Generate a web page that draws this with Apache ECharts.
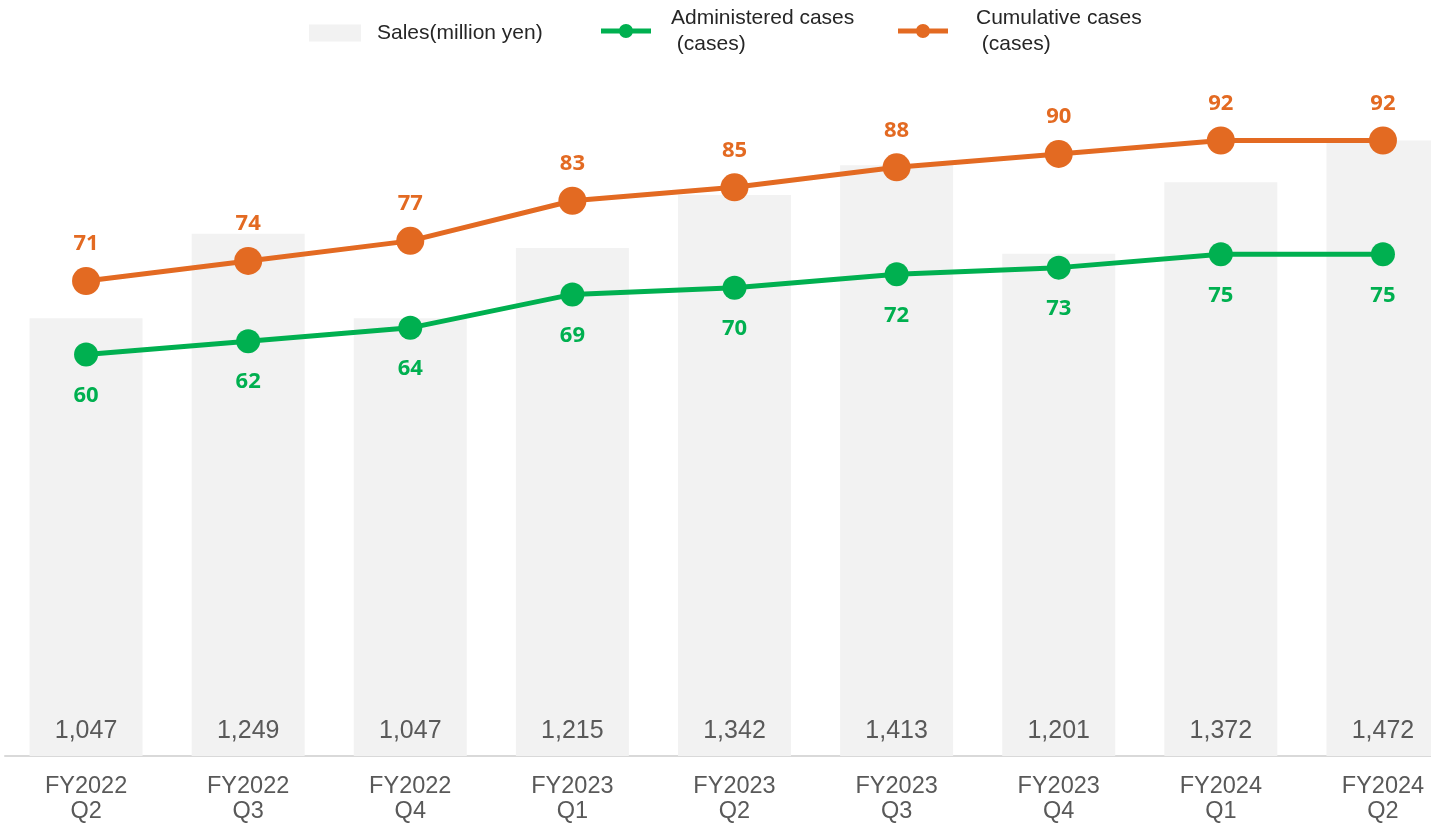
<!DOCTYPE html>
<html><head><meta charset="utf-8">
<script src="https://cdn.jsdelivr.net/npm/echarts@6/dist/echarts.min.js"></script>
<style>html,body{margin:0;padding:0;background:#fff}#c{width:1431px;height:823px}</style>
</head><body><div id="c"></div>
<script>
const categories = ['FY2022\nQ2','FY2022\nQ3','FY2022\nQ4','FY2023\nQ1','FY2023\nQ2','FY2023\nQ3','FY2023\nQ4','FY2024\nQ1','FY2024\nQ2'];
const sales = [1047,1249,1047,1215,1342,1413,1201,1372,1472];
const administered = [60,62,64,69,70,72,73,75,75];
const cumulative = [71,74,77,83,85,88,90,92,92];

const chart = echarts.init(document.getElementById('c'));
const orange = '#E36A22', green = '#00B050';
const lineIcon = 'path://M0,4.5 L50,4.5 L50,9.5 L0,9.5 Z M25,0 C28.866,0 32,3.134 32,7 C32,10.866 28.866,14 25,14 C21.134,14 18,10.866 18,7 C18,3.134 21.134,0 25,0 Z';
const legendText = {fontFamily: 'Liberation Sans', fontSize: 21, color: '#262626', lineHeight: 26};
chart.setOption({
  animation: false,
  grid: {left: 5, width: 1459, top: 87, bottom: 67, containLabel: false, outerBoundsMode: 'none'},
  legend: [
    {left: 304, top: 15, itemWidth: 52, itemHeight: 17, icon: 'rect', data: ['Sales(million yen)'],
     textStyle: Object.assign({}, legendText, {padding: [0,0,0,11]})},
    {left: 596, top: 0, itemWidth: 50, itemHeight: 14, icon: lineIcon, data: ['Administered cases\n (cases)'],
     textStyle: Object.assign({}, legendText, {padding: [0,0,0,15]})},
    {left: 893, top: 0, itemWidth: 50, itemHeight: 14, icon: lineIcon, data: ['Cumulative cases\n (cases)'],
     textStyle: Object.assign({}, legendText, {padding: [0,0,0,23]})}
  ],
  xAxis: {
    type: 'category', data: categories,
    axisLine: {lineStyle: {color: '#D9D9D9', width: 2}},
    axisTick: {show: false},
    axisLabel: {fontFamily: 'Liberation Sans', fontSize: 23.5, color: '#595959', lineHeight: 25, margin: 18}
  },
  yAxis: [
    {type: 'value', min: 0, max: 1600, show: false, splitLine: {show: false}},
    {type: 'value', min: 0, max: 100, show: false, splitLine: {show: false}}
  ],
  series: [
    {name: 'Sales(million yen)', type: 'bar', data: sales, barWidth: 113,
     itemStyle: {color: '#F2F2F2'},
     label: {show: true, position: 'insideBottom', distance: 12, fontFamily: 'Liberation Sans', fontSize: 25, color: '#595959',
       formatter: p => p.value.toLocaleString('en-US')}},
    {name: 'Administered cases\n (cases)', type: 'line', yAxisIndex: 1, data: administered,
     symbol: 'circle', symbolSize: 24, lineStyle: {color: green, width: 5}, itemStyle: {color: green},
     label: {show: true, position: 'bottom', distance: 18, fontFamily: 'Open Sans', fontWeight: 'bold', fontSize: 22, color: green}},
    {name: 'Cumulative cases\n (cases)', type: 'line', yAxisIndex: 1, data: cumulative,
     symbol: 'circle', symbolSize: 28, lineStyle: {color: orange, width: 5}, itemStyle: {color: orange},
     label: {show: true, position: 'top', distance: 12, fontFamily: 'Open Sans', fontWeight: 'bold', fontSize: 22, color: orange}}
  ]
});
</script></body></html>
